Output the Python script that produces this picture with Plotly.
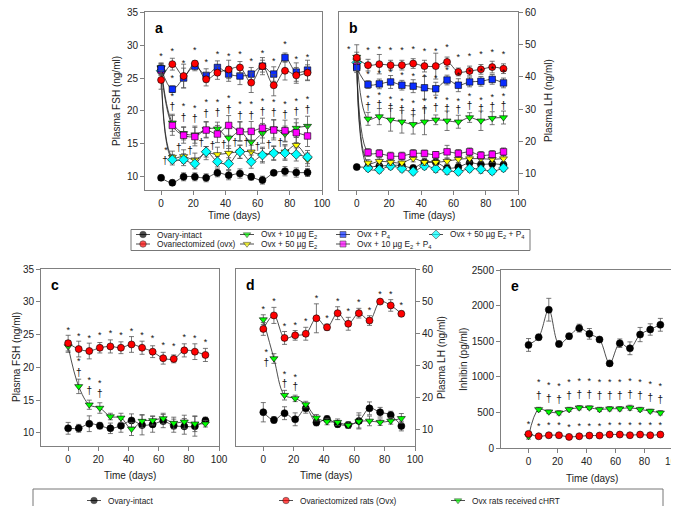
import plotly.graph_objects as go

# sampling days (same for every panel)
days = [0, 7, 14, 21, 28, 35, 42, 49, 56, 63, 70, 77, 84, 91]

# ---- panel a : plasma FSH, all treatment groups (ng/ml)
a_intact = [9.85, 9.1, 10.0, 10.0, 9.85, 10.6, 10.25, 10.5, 10.0, 9.5, 10.6, 10.85, 10.65, 10.65]
a_ovx = [24.7, 27.1, 25.3, 27.2, 24.8, 25.8, 26.3, 26.6, 24.3, 26.8, 23.9, 26.1, 25.4, 25.8]
a_e10 = [26.6, 18.2, 16.6, 16.4, 17.2, 17.3, 15.9, 16.9, 15.3, 16.6, 17.3, 16.5, 17.4, 17.7]
a_e50 = [26.5, 13.0, 13.1, 12.6, 13.6, 13.4, 13.6, 13.8, 13.8, 13.3, 13.6, 13.8, 14.8, 12.6]
a_p4 = [26.4, 23.3, 25.0, 26.8, 25.4, 26.6, 25.6, 25.3, 25.6, 26.8, 25.6, 28.1, 25.9, 26.2]
a_e10p4 = [26.2, 17.8, 16.3, 16.1, 17.1, 16.5, 17.8, 16.9, 16.9, 17.4, 17.1, 17.0, 16.7, 16.2]
a_e50p4 = [26.1, 12.6, 12.6, 12.0, 13.8, 12.3, 12.0, 13.8, 12.3, 13.3, 13.6, 13.6, 13.4, 13.0]
a_intact_err = [0.4, 0.4, 0.6, 0.6, 0.6, 0.6, 0.7, 0.7, 0.5, 0.6, 0.3, 0.7, 0.7, 0.6]
a_ovx_err = [1.4, 0.9, 1.8, 0.4, 1.0, 1.0, 1.4, 0.9, 1.5, 1.3, 1.6, 1.4, 1.2, 1.2]
a_e10_err = [0.6, 1.3, 1.0, 1.3, 1.2, 1.0, 1.6, 1.4, 1.5, 1.5, 1.4, 1.2, 1.4, 1.5]
a_e50_err = [0.6, 0.9, 1.0, 1.0, 1.0, 1.1, 1.1, 1.0, 1.0, 1.2, 1.1, 1.1, 1.2, 1.0]
a_p4_err = [0.9, 0.5, 1.5, 0.7, 1.0, 1.0, 1.1, 1.3, 1.0, 0.9, 1.1, 0.7, 1.4, 1.5]
a_e10p4_err = [0.8, 1.5, 1.2, 1.4, 1.2, 1.3, 1.5, 1.5, 1.5, 1.5, 1.5, 1.6, 1.5, 1.6]
a_e50p4_err = [0.6, 0.8, 0.9, 0.8, 0.8, 0.8, 0.9, 1.0, 1.0, 1.0, 1.0, 1.1, 1.0, 1.0]

# ---- panel b : plasma LH, all treatment groups (ng/ml)
b_intact = [12.1, 12.1, 12.4, 12.6, 12.6, 11.8, 13.6, 13.6, 11.8, 12.1, 13.4, 12.9, 13.1, 12.8]
b_ovx = [45.9, 43.6, 43.9, 43.6, 43.6, 44.1, 43.3, 43.3, 44.6, 41.5, 41.8, 42.3, 43.0, 42.5]
b_e10 = [46.1, 27.0, 27.7, 26.7, 26.1, 25.3, 26.1, 26.7, 26.4, 26.1, 27.4, 26.4, 27.2, 27.4]
b_e50 = [45.0, 13.4, 13.9, 13.6, 13.4, 14.7, 13.6, 13.6, 13.9, 14.5, 14.7, 14.7, 14.5, 14.7]
b_p4 = [42.8, 37.6, 37.8, 38.4, 37.4, 37.1, 36.6, 36.3, 39.0, 37.4, 38.4, 38.6, 39.2, 38.1]
b_e10p4 = [43.3, 16.6, 16.3, 15.5, 15.5, 16.3, 16.3, 15.9, 16.8, 16.3, 16.8, 15.7, 16.0, 16.8]
b_e50p4 = [44.4, 11.8, 11.3, 12.4, 11.6, 10.7, 12.4, 11.6, 11.0, 10.7, 11.6, 11.4, 10.8, 11.8]
b_intact_err = [0.8, 0.8, 1.0, 1.0, 1.0, 0.9, 1.2, 1.1, 1.2, 1.0, 1.1, 1.0, 1.0, 1.0]
b_ovx_err = [4.0, 1.8, 3.0, 1.5, 1.5, 1.5, 1.8, 4.0, 1.5, 1.2, 1.5, 1.5, 1.8, 1.5]
b_e10_err = [1.5, 2.0, 2.5, 3.5, 3.5, 3.0, 4.0, 1.5, 3.0, 2.0, 1.5, 3.0, 2.0, 2.0]
b_e50_err = [1.0, 1.0, 1.0, 1.0, 1.0, 1.0, 1.0, 1.0, 1.0, 1.0, 1.0, 1.0, 1.0, 1.0]
b_p4_err = [1.5, 1.2, 1.5, 2.0, 1.5, 2.0, 3.5, 2.0, 1.5, 2.0, 1.5, 1.5, 1.5, 1.5]
b_e10p4_err = [1.2, 1.2, 1.2, 1.2, 1.2, 1.2, 1.0, 1.0, 2.0, 1.2, 1.2, 1.2, 1.2, 1.2]
b_e50p4_err = [1.0, 1.0, 1.0, 1.0, 1.0, 1.0, 1.0, 1.2, 1.2, 1.0, 1.0, 1.2, 1.0, 1.0]

# ---- panel c : plasma FSH, cHRT study (ng/ml)
c_intact = [10.7, 10.7, 11.4, 11.1, 10.7, 11.1, 11.9, 11.2, 11.3, 11.8, 11.1, 11.0, 11.0, 11.9]
c_ovx = [23.7, 22.8, 22.5, 23.0, 23.2, 23.0, 23.5, 23.0, 22.4, 21.4, 21.3, 22.6, 22.4, 21.9]
c_chrt = [23.2, 17.1, 14.3, 13.8, 12.5, 12.3, 10.6, 11.8, 11.9, 12.2, 11.5, 11.7, 11.4, 11.4]
c_intact_err = [0.9, 0.6, 1.2, 0.5, 0.8, 1.0, 1.0, 1.5, 1.2, 1.0, 1.0, 1.2, 1.5, 0.5]
c_ovx_err = [1.2, 1.2, 1.2, 0.8, 1.0, 0.9, 1.2, 1.0, 0.9, 0.9, 0.6, 1.0, 1.2, 1.0]
c_chrt_err = [0.9, 1.1, 0.7, 0.8, 0.5, 0.7, 1.0, 1.0, 0.7, 0.8, 0.9, 1.0, 1.2, 0.5]

# ---- panel d : plasma LH, cHRT study (ng/ml)
d_intact = [15.5, 13.1, 15.2, 13.3, 16.7, 12.3, 13.4, 11.8, 11.5, 12.8, 16.7, 15.5, 14.6, 11.2]
d_ovx = [41.4, 45.6, 38.6, 39.4, 39.9, 44.7, 41.9, 46.3, 43.0, 46.3, 44.0, 49.9, 48.7, 46.1]
d_chrt = [44.3, 32.2, 20.8, 19.8, 17.9, 13.8, 12.6, 12.4, 11.5, 12.6, 12.8, 12.4, 12.8, 13.6]
d_intact_err = [3.0, 1.0, 2.0, 2.0, 1.5, 1.0, 1.0, 1.0, 1.0, 2.5, 2.0, 1.5, 1.2, 1.5]
d_ovx_err = [2.0, 2.5, 2.0, 1.5, 2.0, 4.5, 1.0, 2.0, 2.0, 1.5, 1.5, 0.5, 1.8, 0.8]
d_chrt_err = [1.5, 1.5, 1.5, 1.0, 1.0, 1.0, 1.0, 1.0, 1.0, 2.0, 1.5, 1.0, 1.0, 1.5]

# ---- panel e : inhibin, cHRT study (pg/ml)
e_intact = [1448, 1557, 1943, 1462, 1571, 1684, 1604, 1524, 1189, 1472, 1401, 1594, 1665, 1731]
e_ovx = [198, 165, 179, 179, 156, 165, 175, 175, 189, 189, 179, 189, 179, 189]
e_chrt = [165, 542, 509, 495, 542, 566, 566, 542, 552, 552, 566, 542, 519, 495]
e_intact_err = [90, 40, 160, 40, 40, 55, 75, 30, 25, 60, 90, 100, 80, 90]
e_ovx_err = [25, 20, 20, 20, 20, 20, 20, 20, 20, 20, 20, 20, 20, 20]
e_chrt_err = [40, 30, 25, 30, 30, 30, 25, 30, 30, 30, 35, 30, 25, 30]

# legend labels
top_labels = ["Ovary-intact", "Ovariectomized (ovx)",
              "Ovx + 10 µg E<sub>2</sub>", "Ovx + 50 µg E<sub>2</sub>",
              "Ovx + P<sub>4</sub>", "Ovx + 10 µg E<sub>2</sub> + P<sub>4</sub>",
              "Ovx + 50 µg E<sub>2</sub> + P<sub>4</sub>"]
bottom_labels = ["Ovary-intact", "Ovariectomized rats (Ovx)", "Ovx rats received cHRT"]

W, H = 679, 506
FONT = "Liberation Sans, Arial, sans-serif"

STY = {
    "black": dict(symbol="circle", color="#000000", size=7),
    "red": dict(symbol="circle", color="#ff0000", size=7),
    "green": dict(symbol="triangle-down", color="#00ff00", size=7),
    "yellow": dict(symbol="triangle-down", color="#ffff00", size=7),
    "blue": dict(symbol="square", color="#0a2cff", size=6.5),
    "magenta": dict(symbol="square", color="#ff00ff", size=6.5),
    "cyan": dict(symbol="diamond", color="#00ffff", size=7.5),
}

fig = go.Figure()


def series(ax, y, err, key):
    st = STY[key]
    fig.add_trace(go.Scatter(
        x=days, y=y, xaxis="x" + ax, yaxis="y" + ax, mode="lines+markers",
        line=dict(color="#222222", width=0.8, shape="spline", smoothing=1),
        marker=dict(symbol=st["symbol"], color=st["color"], size=st["size"],
                    line=dict(color="#000000", width=0.6)),
        error_y=dict(type="data", array=err, color="#555555", thickness=0.8, width=2.5),
        showlegend=False, hoverinfo="skip"))


def marks(ax, xs, ys, txt):
    fig.add_trace(go.Scatter(
        x=xs, y=ys, xaxis="x" + ax, yaxis="y" + ax, mode="text", text=[txt] * len(xs),
        textfont=dict(family=FONT, size=9 if txt == "*" else 10, color="#111111"),
        showlegend=False, hoverinfo="skip"))


# panel a
series("", a_intact, a_intact_err, "black")
series("", a_e50, a_e50_err, "yellow")
series("", a_e50p4, a_e50p4_err, "cyan")
series("", a_e10, a_e10_err, "green")
series("", a_e10p4, a_e10p4_err, "magenta")
series("", a_p4, a_p4_err, "blue")
series("", a_ovx, a_ovx_err, "red")
top = [max(r, b) + 1.9 for r, b in zip(a_ovx, a_p4)]
marks("", days, top, "*")
marks("", [days[1]], [a_p4[1] + 1.6], "*")
mid = [max(g, m) for g, m in zip(a_e10, a_e10p4)][1:]
marks("", days[1:], [v + 4.0 for v in mid], "*")
marks("", days[1:], [v + 2.3 for v in mid], "†")
low = [max(yl, c) for yl, c in zip(a_e50, a_e50p4)]
marks("", [d - 3 for d in days[2:12]], [v + 1.2 for v in low[2:12]], "†")
marks("", [days[1] - 4], [low[1] + 0.9], "*")
marks("", [days[1] - 4.5], [low[1] - 0.6], "†")

# panel b
series("2", b_intact, b_intact_err, "black")
series("2", b_e50p4, b_e50p4_err, "cyan")
series("2", b_e50, b_e50_err, "yellow")
series("2", b_e10p4, b_e10p4_err, "magenta")
series("2", b_e10, b_e10_err, "green")
series("2", b_p4, b_p4_err, "blue")
series("2", b_ovx, b_ovx_err, "red")
marks("2", [days[0] - 5] + days[1:], [b_ovx[0] + 2.6] + [v + 4.4 for v in b_ovx[1:]], "*")
marks("2", days[1:], [v + 3.0 for v in b_p4[1:]], "*")
marks("2", days[1:], [v + 6.3 for v in b_e10[1:]], "*")
marks("2", days[1:], [v + 3.4 for v in b_e10[1:]], "†")

# panel c
series("3", c_intact, c_intact_err, "black")
series("3", c_chrt, c_chrt_err, "green")
series("3", c_ovx, c_ovx_err, "red")
marks("3", days, [v + 1.9 for v in c_ovx], "*")
marks("3", days[1:4], [v + 3.7 for v in c_chrt[1:4]], "*")
marks("3", days[1:4], [v + 2.0 for v in c_chrt[1:4]], "†")

# panel d
series("4", d_intact, d_intact_err, "black")
series("4", d_chrt, d_chrt_err, "green")
series("4", d_ovx, d_ovx_err, "red")
marks("4", days, [max(r + re, g + ge) + 1.6 for r, re, g, ge in
                  zip(d_ovx, d_ovx_err, d_chrt, d_chrt_err)], "*")
marks("4", [days[1] - 5] + days[2:4], [d_chrt[1] + 1.8] + [v + 6.5 for v in d_chrt[2:4]], "*")
marks("4", [days[1] - 5] + days[2:4], [d_chrt[1] - 1.6] + [v + 3.3 for v in d_chrt[2:4]], "†")

# panel e
series("5", e_intact, e_intact_err, "black")
series("5", e_chrt, e_chrt_err, "green")
series("5", e_ovx, e_ovx_err, "red")
marks("5", days, [v + 130 for v in e_ovx], "*")
marks("5", days[1:], [v + 370 for v in e_chrt[1:]], "*")
marks("5", days[1:], [v + 175 for v in e_chrt[1:]], "†")

# ---- layout of the five panels (pixel frames + title anchor points)
panels = [
    ("", (137, 314, 4, 182), [-10, 100], [8, 35.02], 5, "Plasma FSH (ng/ml)", "left", "a",
     (108, 93), (225.5, 207)),
    ("2", (331, 510, 4, 182), [-11, 100], [5, 60.03], 10, "Plasma LH (ng/ml)", "right", "b",
     (540, 93), (420.5, 207)),
    ("3", (33, 211, 261, 438), [-18, 100], [8, 35.02], 5, "Plasma FSH (ng/ml)", "left", "c",
     (8, 349), (122, 467)),
    ("4", (228, 407, 261, 438), [-18, 100], [5, 60.03], 10, "Plasma LH (ng/ml)", "right", "d",
     (433, 349), (317.5, 467)),
    ("5", (493, 677, 262, 440), [-19, 108], [0, 2501], 500, "Inhibin (pg/ml)", "left", "e",
     (455, 351), (584, 470)),
]

axcommon = dict(showline=True, linecolor="#808080", linewidth=1, mirror=True,
                ticks="outside", ticklen=4, tickcolor="#808080", showgrid=False,
                zeroline=False, automargin=False, ticklabeloverflow="allow",
                tickfont=dict(family=FONT, size=10, color="#222222"))
title_font = dict(family=FONT, size=10, color="#222222")
annotations = []
for ax, (x0, x1, y0, y1), xr, yr, dt, ytitle, side, lab, ypos, xpos in panels:
    xdom = [x0 / W, x1 / W]
    ydom = [1 - y1 / H, 1 - y0 / H]
    fig.layout["xaxis" + ax] = dict(axcommon, domain=xdom, range=xr, tick0=0, dtick=20,
                                    anchor="y" + ax)
    fig.layout["yaxis" + ax] = dict(axcommon, domain=ydom, range=yr, tick0=0, dtick=dt,
                                    anchor="x" + ax, side=side)
    annotations.append(dict(x=x0 / W + 8 / W, y=1 - y0 / H - 6 / H, xref="paper", yref="paper",
                            text="<b>%s</b>" % lab, showarrow=False, xanchor="left",
                            yanchor="top", font=dict(family=FONT, size=14, color="#000000")))
    annotations.append(dict(x=ypos[0] / W, y=1 - ypos[1] / H, xref="paper", yref="paper",
                            text=ytitle, textangle=-90, showarrow=False, xanchor="center",
                            yanchor="middle", font=title_font))
    annotations.append(dict(x=xpos[0] / W, y=1 - xpos[1] / H, xref="paper", yref="paper",
                            text="Time (days)", showarrow=False, xanchor="center",
                            yanchor="middle", font=title_font))

# ---- hand-drawn legends on an invisible pixel-space overlay
fig.layout["xaxis6"] = dict(domain=[0, 1], range=[0, W], visible=False, anchor="y6")
fig.layout["yaxis6"] = dict(domain=[0, 1], range=[H, 0], visible=False, anchor="x6")

top_keys = ["black", "red", "green", "yellow", "blue", "magenta", "cyan"]
top_cols = [135, 239, 335, 428]
top_rows = [226.5, 236]
bot_keys = ["black", "red", "green"]
bot_cols = [86, 278, 450]
bot_row = 492.5


def legend_key(cx, cy, key, label):
    st = STY[key]
    fig.add_trace(go.Scatter(
        x=[cx - 7, cx, cx + 7], y=[cy, cy, cy], xaxis="x6", yaxis="y6", mode="lines+markers",
        line=dict(color="#222222", width=0.8),
        marker=dict(symbol=st["symbol"], color=st["color"], size=[0, st["size"] - 0.5, 0],
                    line=dict(color="#000000", width=0.6)),
        showlegend=False, hoverinfo="skip"))
    annotations.append(dict(x=cx + 12, y=cy, xref="x6", yref="y6", text=label, showarrow=False,
                            xanchor="left", yanchor="middle",
                            font=dict(family=FONT, size=8.3, color="#222222")))


for i, (key, label) in enumerate(zip(top_keys, top_labels)):
    legend_key(top_cols[i // 2], top_rows[i % 2], key, label)
for key, label, cx in zip(bot_keys, bottom_labels, bot_cols):
    legend_key(cx, bot_row, key, label)

shapes = [
    dict(type="rect", xref="x6", yref="y6", x0=123, x1=522, y0=221.5, y1=242.5,
         line=dict(color="#777777", width=1)),
    dict(type="rect", xref="x6", yref="y6", x0=25, x1=655, y0=481, y1=503,
         line=dict(color="#777777", width=1)),
]

fig.update_layout(width=W, height=H, margin=dict(l=0, r=0, t=0, b=0),
                  paper_bgcolor="white", plot_bgcolor="rgba(0,0,0,0)",
                  font=dict(family=FONT, size=10, color="#222222"),
                  annotations=annotations, shapes=shapes, showlegend=False)

fig.write_html("out.html")
